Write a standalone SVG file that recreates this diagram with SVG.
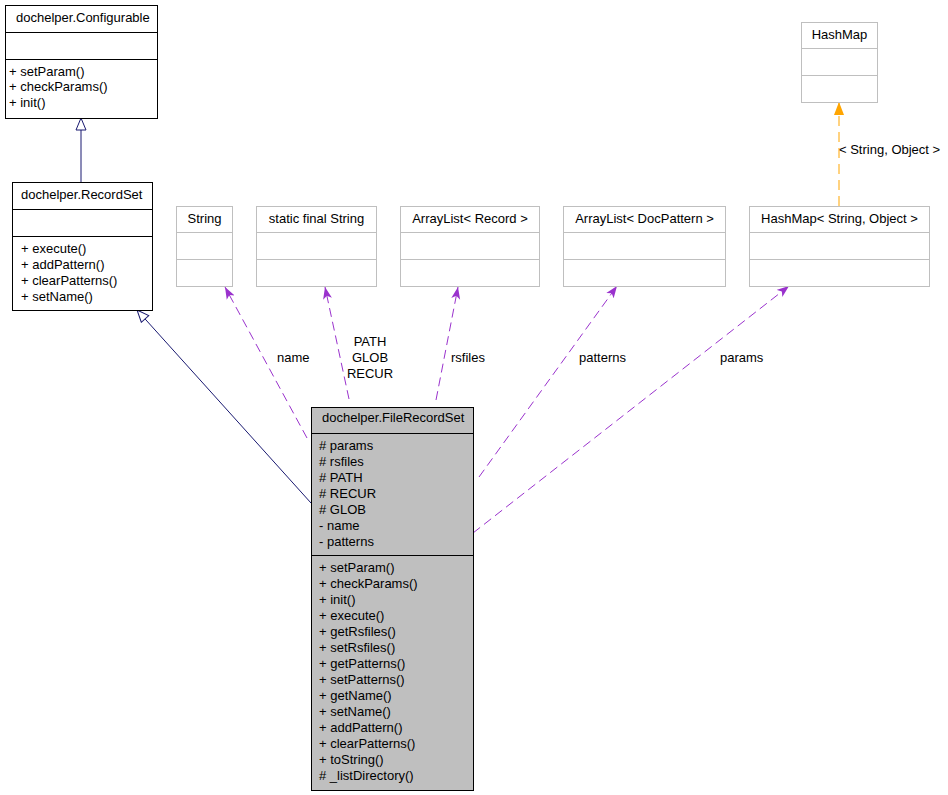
<svg xmlns="http://www.w3.org/2000/svg" width="948" height="795" viewBox="0 0 948 795">
<style>
text{font-family:"Liberation Sans",Arial,Helvetica,sans-serif;font-size:13px;fill:#000}
.c{text-anchor:middle}
.box{fill:#fff;stroke:#000;stroke-width:1}
.gbox{fill:#fff;stroke:#bfbfbf;stroke-width:1}
.sel{fill:#bfbfbf;stroke:#000;stroke-width:1}
.sep{stroke:#000;stroke-width:1}
.gsep{stroke:#bfbfbf;stroke-width:1}
.inh{fill:none;stroke:#191970;stroke-width:1}
.use{fill:none;stroke:#9a32cd;stroke-width:1;stroke-dasharray:9,5}
.tpl{fill:none;stroke:#ffa500;stroke-width:1;stroke-dasharray:10,6}
</style>
<defs>
<marker id="hollow" viewBox="0 0 14 12" refX="13" refY="6" markerWidth="14" markerHeight="12" markerUnits="userSpaceOnUse" orient="auto">
<path d="M1,1 L13,6 L1,11 z" fill="#fff" stroke="#191970" stroke-width="1"/>
</marker>
<marker id="vee" viewBox="0 0 12 10" refX="12" refY="5" markerWidth="12" markerHeight="10" markerUnits="userSpaceOnUse" orient="auto">
<path d="M0,0.5 L12,5 L0,9.5 L3,5 z" fill="#9a32cd"/>
</marker>
<marker id="filled" viewBox="0 0 14 12" refX="13" refY="6" markerWidth="14" markerHeight="12" markerUnits="userSpaceOnUse" orient="auto">
<path d="M0,1 L13,6 L0,11 z" fill="#ffa500"/>
</marker>
</defs>

<g id="edges">
<line class="inh" x1="81" y1="182" x2="81" y2="118" marker-end="url(#hollow)"/>
<line class="inh" x1="311" y1="503" x2="137" y2="310" marker-end="url(#hollow)"/>
<line class="use" x1="307" y1="438" x2="225" y2="287" marker-end="url(#vee)"/>
<line class="use" x1="349" y1="399" x2="325" y2="287" marker-end="url(#vee)"/>
<line class="use" x1="436" y1="400" x2="458" y2="287" marker-end="url(#vee)"/>
<line class="use" x1="479" y1="477" x2="617" y2="286" marker-end="url(#vee)"/>
<line class="use" x1="473" y1="533" x2="789" y2="286" marker-end="url(#vee)"/>
<line class="tpl" x1="839" y1="206" x2="839" y2="102" marker-end="url(#filled)"/>
<text x="277" y="362">name</text>
<text class="c" x="370" y="346">PATH</text>
<text class="c" x="370" y="362">GLOB</text>
<text class="c" x="370" y="378">RECUR</text>
<text x="451" y="362">rsfiles</text>
<text x="579" y="362">patterns</text>
<text x="720" y="362">params</text>
<text x="839" y="154">&lt; String, Object &gt;</text>
</g>

<g id="configurable">
<rect class="box" x="5.5" y="5.5" width="152" height="113"/>
<line class="sep" x1="5.5" y1="32.5" x2="157.5" y2="32.5"/>
<line class="sep" x1="5.5" y1="59.5" x2="157.5" y2="59.5"/>
<text x="16" y="22">dochelper.Configurable</text>
<text x="9" y="75.5">+ setParam()</text>
<text x="9" y="91">+ checkParams()</text>
<text x="9" y="106.5">+ init()</text>
</g>

<g id="recordset">
<rect class="box" x="12.5" y="182.5" width="140" height="128"/>
<line class="sep" x1="12.5" y1="209.5" x2="152.5" y2="209.5"/>
<line class="sep" x1="12.5" y1="236.5" x2="152.5" y2="236.5"/>
<text x="21" y="199">dochelper.RecordSet</text>
<text x="21" y="253">+ execute()</text>
<text x="21" y="269">+ addPattern()</text>
<text x="21" y="285">+ clearPatterns()</text>
<text x="21" y="301">+ setName()</text>
</g>

<g id="string">
<rect class="gbox" x="176.5" y="206.5" width="56" height="80"/>
<line class="gsep" x1="176.5" y1="232.5" x2="232.5" y2="232.5"/>
<line class="gsep" x1="176.5" y1="259.5" x2="232.5" y2="259.5"/>
<text class="c" x="204.5" y="223">String</text>
</g>

<g id="staticfinalstring">
<rect class="gbox" x="256.5" y="206.5" width="120" height="80"/>
<line class="gsep" x1="256.5" y1="232.5" x2="376.5" y2="232.5"/>
<line class="gsep" x1="256.5" y1="259.5" x2="376.5" y2="259.5"/>
<text class="c" x="316.5" y="223">static final String</text>
</g>

<g id="arraylistrecord">
<rect class="gbox" x="400.5" y="206.5" width="139" height="80"/>
<line class="gsep" x1="400.5" y1="232.5" x2="539.5" y2="232.5"/>
<line class="gsep" x1="400.5" y1="259.5" x2="539.5" y2="259.5"/>
<text class="c" x="470" y="223">ArrayList&lt; Record &gt;</text>
</g>

<g id="arraylistdocpattern">
<rect class="gbox" x="563.5" y="206.5" width="162" height="80"/>
<line class="gsep" x1="563.5" y1="232.5" x2="725.5" y2="232.5"/>
<line class="gsep" x1="563.5" y1="259.5" x2="725.5" y2="259.5"/>
<text class="c" x="644.5" y="223">ArrayList&lt; DocPattern &gt;</text>
</g>

<g id="hashmapstringobject">
<rect class="gbox" x="749.5" y="206.5" width="180" height="80"/>
<line class="gsep" x1="749.5" y1="232.5" x2="929.5" y2="232.5"/>
<line class="gsep" x1="749.5" y1="259.5" x2="929.5" y2="259.5"/>
<text class="c" x="839.5" y="223">HashMap&lt; String, Object &gt;</text>
</g>

<g id="hashmap">
<rect class="gbox" x="801.5" y="22.5" width="76" height="80"/>
<line class="gsep" x1="801.5" y1="48.5" x2="877.5" y2="48.5"/>
<line class="gsep" x1="801.5" y1="75.5" x2="877.5" y2="75.5"/>
<text class="c" x="839.5" y="39">HashMap</text>
</g>

<g id="filerecordset">
<rect class="sel" x="311.5" y="407.5" width="162" height="383"/>
<line class="sep" x1="311.5" y1="433.5" x2="473.5" y2="433.5"/>
<line class="sep" x1="311.5" y1="555.5" x2="473.5" y2="555.5"/>
<text x="322" y="422">dochelper.FileRecordSet</text>
<text x="319" y="450"># params</text>
<text x="319" y="466"># rsfiles</text>
<text x="319" y="482"># PATH</text>
<text x="319" y="498"># RECUR</text>
<text x="319" y="514"># GLOB</text>
<text x="319" y="530">- name</text>
<text x="319" y="546">- patterns</text>
<text x="319" y="572">+ setParam()</text>
<text x="319" y="588">+ checkParams()</text>
<text x="319" y="604">+ init()</text>
<text x="319" y="620">+ execute()</text>
<text x="319" y="636">+ getRsfiles()</text>
<text x="319" y="652">+ setRsfiles()</text>
<text x="319" y="668">+ getPatterns()</text>
<text x="319" y="684">+ setPatterns()</text>
<text x="319" y="700">+ getName()</text>
<text x="319" y="716">+ setName()</text>
<text x="319" y="732">+ addPattern()</text>
<text x="319" y="748">+ clearPatterns()</text>
<text x="319" y="764">+ toString()</text>
<text x="319" y="780"># _listDirectory()</text>
</g>
</svg>
